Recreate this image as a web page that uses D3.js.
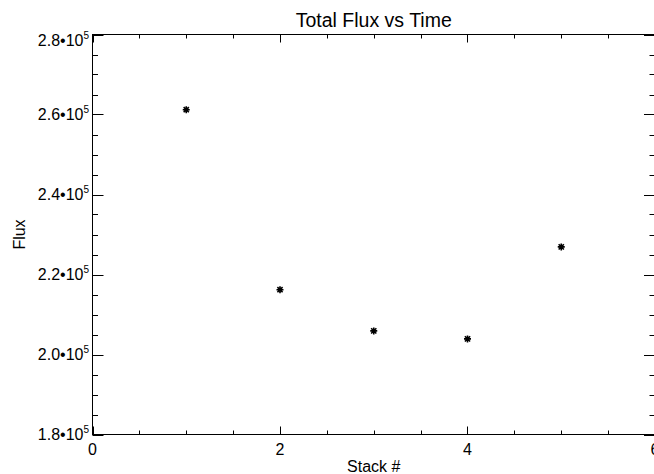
<!DOCTYPE html>
<html>
<head>
<meta charset="utf-8">
<script src="https://cdn.jsdelivr.net/npm/d3@7"></script>
<style>
  html, body { margin: 0; padding: 0; background: #fff; }
  svg { display: block; }
  text { font-family: "Liberation Sans", Arial, Helvetica, sans-serif; fill: #000; }
</style>
</head>
<body>
<svg id="chart" width="654" height="474"></svg>
<script>
// ---- data ----
const stacks = [1, 2, 3, 4, 5];
const flux = [261200, 216200, 205900, 203900, 226900];
const xTicks = [0, 2, 4, 6];
const xTickLabels = ["0", "2", "4", "6"];
const yTicks = [180000, 200000, 220000, 240000, 260000, 280000];
const yTickMantissa = ["1.8", "2.0", "2.2", "2.4", "2.6", "2.8"];
const yTickExponent = ["5", "5", "5", "5", "5", "5"];
const titleText = "Total Flux vs Time";
const xTitle = "Stack #";
const yTitle = "Flux";

// ---- layout ----
const L = 92.5, R = 655, T = 34.5, B = 434.5;
const svg = d3.select("#chart");
const x = d3.scaleLinear().domain([0, 6]).range([L, R]);
const y = d3.scaleLinear().domain([180000, 280000]).range([B, T]);

const g = svg.append("g");
// box
g.append("rect").attr("x", L).attr("y", T).attr("width", R - L).attr("height", B - T)
  .attr("fill", "none").attr("stroke", "#000").attr("stroke-width", 1);

// x ticks (major every 2, minor every 0.5)
const xMinor = d3.range(0, 6.0001, 0.5);
xMinor.forEach(v => {
  const major = Math.abs(v / 2 - Math.round(v / 2)) < 1e-6;
  const len = major ? 8 : 4;
  const px = Math.round(x(v)) + 0.5;
  g.append("line").attr("x1", px).attr("x2", px).attr("y1", B).attr("y2", B - len)
    .attr("stroke", "#000").attr("stroke-width", 1);
  g.append("line").attr("x1", px).attr("x2", px).attr("y1", T).attr("y2", T + len)
    .attr("stroke", "#000").attr("stroke-width", 1);
});
// y ticks (major every 20000, minor every 5000)
const yMinor = d3.range(180000, 280001, 5000);
yMinor.forEach(v => {
  const major = (v % 20000) === 0;
  const len = major ? 11 : 5.5;
  const py = Math.round(y(v)) + 0.5;
  g.append("line").attr("x1", L).attr("x2", L + len).attr("y1", py).attr("y2", py)
    .attr("stroke", "#000").attr("stroke-width", 1);
  g.append("line").attr("x1", R).attr("x2", R - len).attr("y1", py).attr("y2", py)
    .attr("stroke", "#000").attr("stroke-width", 1);
});

// x tick labels
xTicks.forEach((v, i) => {
  g.append("text").attr("x", x(v)).attr("y", 455).attr("text-anchor", "middle")
    .attr("font-size", 16).text(xTickLabels[i]);
});
// y tick labels
yTicks.forEach((v, i) => {
  const last = i === yTicks.length - 1;
  const t = g.append("text").attr("x", 89).attr("y", y(v) + (last ? 11 : 5.5))
    .attr("text-anchor", "end").attr("font-size", 16);
  t.append("tspan").text(yTickMantissa[i] + "\u2022" + "10");
  t.append("tspan").attr("font-size", 10).attr("dy", -7).text(yTickExponent[i]);
});

// titles
svg.append("text").attr("x", (L + R) / 2).attr("y", 26.5).attr("text-anchor", "middle")
  .attr("font-size", 19.5).text(titleText);
svg.append("text").attr("x", (L + R) / 2).attr("y", 472).attr("text-anchor", "middle")
  .attr("font-size", 16).text(xTitle);
svg.append("text").attr("transform", `translate(25,${(T + B) / 2}) rotate(-90)`)
  .attr("text-anchor", "middle").attr("font-size", 16).text(yTitle);

// asterisk markers
const s = 3.5, d = 2.6;
const star = `M${-s},0L${s},0M0,${-s}L0,${s}M${-d},${-d}L${d},${d}M${-d},${d}L${d},${-d}`;
g.selectAll("path.pt").data(stacks.map((v, i) => [v, flux[i]])).enter()
  .append("path").attr("class", "pt")
  .attr("transform", p => `translate(${x(p[0])},${y(p[1])})`)
  .attr("d", star).attr("stroke", "#000").attr("stroke-width", 1.6).attr("fill", "none");
</script>
</body>
</html>
